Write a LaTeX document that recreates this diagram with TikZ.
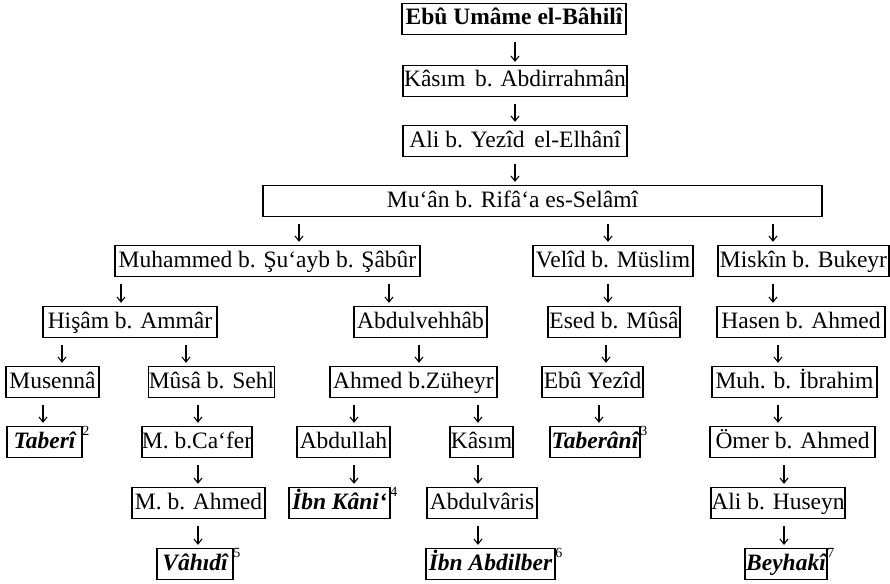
\documentclass[tikz,border=0pt]{standalone}
\usepackage{fontspec}
\setmainfont{Liberation Serif}
\usetikzlibrary{arrows.meta}
\tikzset{
  box/.style={draw, line width=1.3pt, inner xsep=0pt, inner ysep=4pt,
    text height=17pt, text depth=5pt, minimum height=31pt,
    font=\fontsize{23.5}{26}\selectfont},
  fin/.style={box, font=\fontsize{23.5}{26}\selectfont\bfseries\itshape},
  arr/.style={line width=1.1pt, -{Straight Barb[length=5pt,width=8pt,line width=1.1pt]},
    shorten <=7pt, shorten >=3pt},
  sup/.style={label={[anchor=north west, inner sep=0pt, xshift=-0.5pt, yshift=0pt,
    font=\fontsize{14}{14}\selectfont]north east:#1}}
}
\begin{document}
\begin{tikzpicture}[x=1pt,y=-1pt]
\useasboundingbox[fill=white] (0,0) rectangle (890,583);
% row 0-3
\node[box, font=\fontsize{23.5}{26}\selectfont\bfseries, minimum width=224pt] (ebu) at (514,19) {Ebû Umâme el-Bâhilî};
\node[box, minimum width=224pt] (kas) at (515,81) {Kâsım\, b. Abdirrahmân};
\node[box, minimum width=224pt] (ali) at (515,141) {Ali b. Yezîd\, el-Elhânî};
\node[box, minimum width=559pt] (mu) at (542.5,201) {Mu‘ân b. Rifâ‘a es-Selâmî\hspace*{60pt}};
% row 4
\node[box, minimum width=305pt] (muh) at (267.5,261) {Muhammed b. Şu‘ayb b. Şâbûr};
\node[box, minimum width=160pt] (vel) at (613,261) {Velîd b. Müslim};
\node[box, minimum width=171pt] (mis) at (803.5,261) {Miskîn b. Bukeyr};
% row 5
\node[box, minimum width=174pt] (his) at (130,322) {Hişâm b. Ammâr};
\node[box, minimum width=133pt] (abv) at (420.5,322) {Abdulvehhâb};
\node[box, minimum width=132pt] (esed) at (614,322) {Esed b. Mûsâ};
\node[box, minimum width=168pt] (has) at (801,322) {Hasen b. Ahmed};
% row 6
\node[box, minimum width=93pt] (mus) at (52.5,382) {Musennâ};
\node[box, minimum width=125pt] (sehl) at (211.5,382) {Mûsâ b. Sehl};
\node[box, minimum width=167pt] (ahm) at (413.5,382) {Ahmed b.Züheyr};
\node[box, minimum width=101pt] (eby) at (592.5,382) {Ebû Yezîd};
\node[box, minimum width=165pt] (mib) at (794.5,382) {Muh. b. İbrahim};
% row 7
\node[fin, minimum width=75pt, sup=2] (tab) at (44.5,442) {Taberî};
\node[box, minimum width=110pt] (caf) at (197,442) {M. b.Ca‘fer};
\node[box, minimum width=93pt] (abd) at (343.5,442) {Abdullah};
\node[box, minimum width=63pt] (kasim) at (481.5,442) {Kâsım};
\node[fin, minimum width=90pt, sup=3] (tbr) at (595,442) {Taberânî};
\node[box, minimum width=165pt] (omer) at (792.5,442) {Ömer b. Ahmed};
% row 8
\node[box, minimum width=133pt] (mba) at (198.5,503) {M. b. Ahmed};
\node[fin, minimum width=101pt, sup=4] (ibk) at (339.5,503) {İbn Kâni‘};
\node[box, minimum width=110pt] (avr) at (482,503) {Abdulvâris};
\node[box, minimum width=134pt] (ahu) at (778,503) {Ali b. Huseyn};
% row 9
\node[fin, minimum width=76pt, sup=5] (vah) at (195,564) {Vâhıdî};
\node[fin, minimum width=129pt, sup=6] (iba) at (490.5,564) {İbn Abdilber};
\node[fin, minimum width=82pt, sup=7] (bey) at (786,564) {Beyhakî};
% arrows
\foreach \a/\b/\x in {ebu/kas/515, kas/ali/515, ali/mu/515,
  mu/muh/299, mu/vel/608, mu/mis/773,
  muh/his/121, muh/abv/389, vel/esed/608, mis/has/773,
  his/mus/62, his/sehl/186, abv/ahm/419, esed/eby/606, has/mib/778,
  mus/tab/43, sehl/caf/198, ahm/abd/354, ahm/kasim/478, eby/tbr/599, mib/omer/778,
  caf/mba/198, abd/ibk/354, kasim/avr/478, omer/ahu/784,
  mba/vah/198, avr/iba/478, ahu/bey/784}
  \draw[arr] (\a.south -| \x,0) -- (\b.north -| \x,0);
\end{tikzpicture}
\end{document}
